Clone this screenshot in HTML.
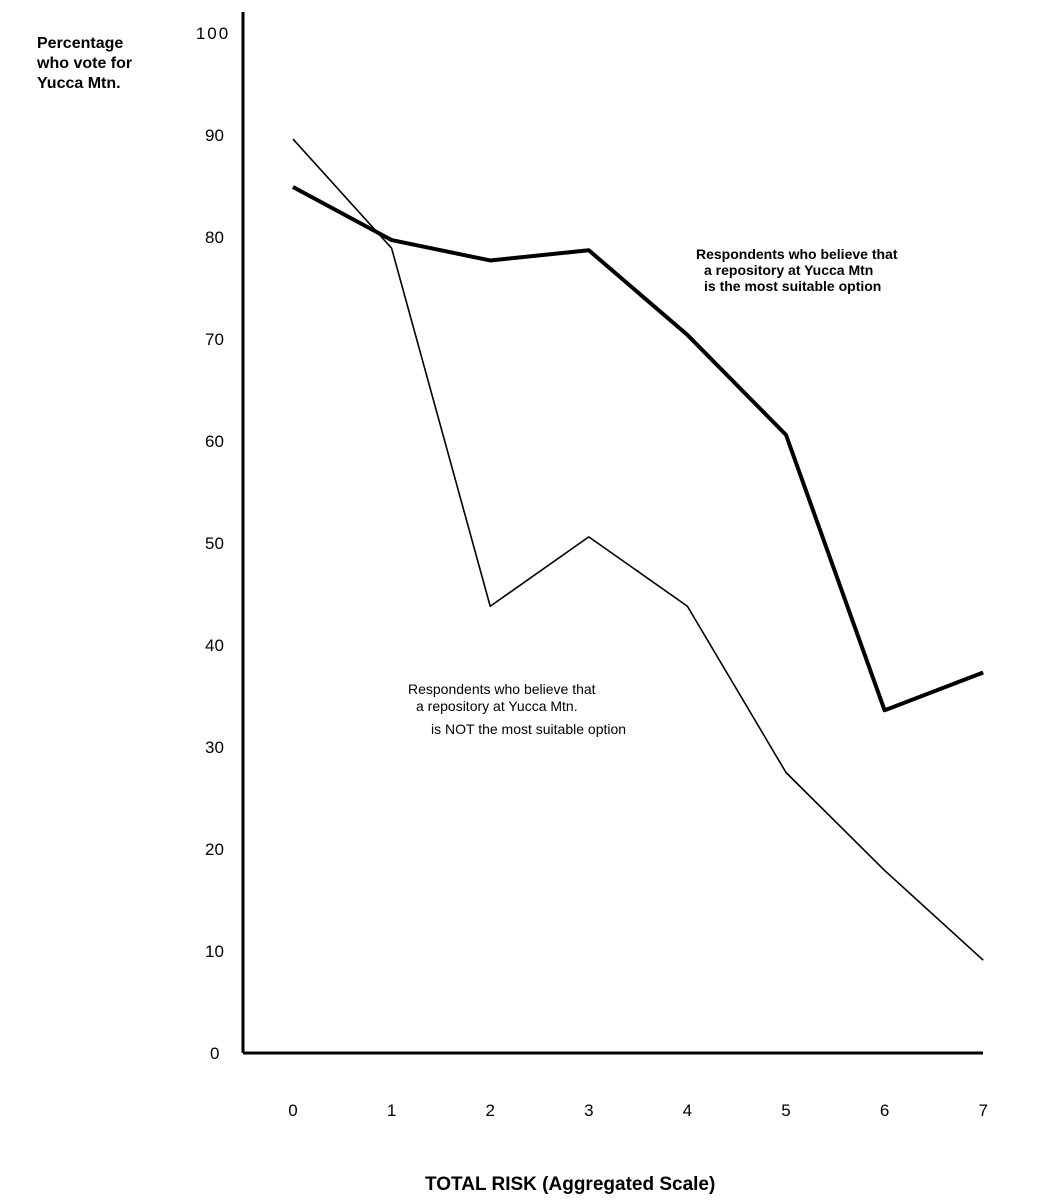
<!DOCTYPE html>
<html><head><meta charset="utf-8"><style>
html,body{margin:0;padding:0;background:#fff;}
svg{display:block;font-family:"Liberation Sans",Arial,sans-serif;}
</style></head><body>
<svg id="chart" width="1041" height="1204" viewBox="0 0 1041 1204">
<g id="axes">
<line x1="243" y1="12" x2="243" y2="1053" stroke="#000" stroke-width="3"/>
<line x1="243" y1="1053" x2="983" y2="1053" stroke="#000" stroke-width="3"/>
</g>
<g id="ticks"></g>
<g id="series"></g>
<text x="37" y="48" font-size="16" font-weight="bold">Percentage</text>
<text x="37" y="68" font-size="16" font-weight="bold">who vote  for</text>
<text x="37" y="88" font-size="16" font-weight="bold">Yucca  Mtn.</text>
<text x="425" y="1190" font-size="19" font-weight="bold">TOTAL RISK  (Aggregated Scale)</text>
<g font-size="14" font-weight="bold">
<text x="696" y="259">Respondents  who  believe that</text>
<text x="704" y="275">a  repository  at  Yucca Mtn</text>
<text x="704" y="291">is  the  most suitable option</text>
</g>
<g font-size="14">
<text x="408" y="694">Respondents who believe that</text>
<text x="416" y="711">a repository at Yucca Mtn.</text>
<text x="431" y="734">is NOT the most suitable option</text>
</g>
</svg>
<script>
const categories = [0,1,2,3,4,5,6,7];
const suitableValues = [84.9,79.7,77.7,78.7,70.4,60.6,33.6,37.3];
const notSuitableValues = [89.6,78.9,43.8,50.6,43.8,27.5,17.9,9.1];
const yTickLabels = [0,10,20,30,40,50,60,70,80,90,100];
const NS='http://www.w3.org/2000/svg';
const xPos = c => 293 + c*98.6;
const yPos = v => 1053 - v*10.2;
const ticks=document.getElementById('ticks');
yTickLabels.forEach(v=>{
  const t=document.createElementNS(NS,'text');
  t.setAttribute('x', v===100?213:(v===0?210:205));
  t.setAttribute('y', yPos(v)+6);
  t.setAttribute('font-size','17');
  t.setAttribute('text-anchor', v===100?'middle':'start');
  t.setAttribute('letter-spacing', v===100?'2':'0');
  t.textContent=v;
  
  
  ticks.appendChild(t);
});
categories.forEach(c=>{
  const t=document.createElementNS(NS,'text');
  t.setAttribute('x', xPos(c));
  t.setAttribute('y', 1116);
  t.setAttribute('font-size','17');
  t.setAttribute('text-anchor','middle');
  t.textContent=c;
  
  
  ticks.appendChild(t);
});
const series=document.getElementById('series');
function addLine(vals, w, name){
  const p=document.createElementNS(NS,'polyline');
  p.setAttribute('points', vals.map((v,i)=>xPos(categories[i])+','+yPos(v)).join(' '));
  p.setAttribute('fill','none');
  p.setAttribute('stroke','#000');
  p.setAttribute('stroke-width',w);
  p.setAttribute('stroke-linejoin','round');
  
  
  series.appendChild(p);
}
addLine(notSuitableValues, 1.6, 'line-not-suitable');
addLine(suitableValues, 4, 'line-suitable');
</script>
</body></html>
